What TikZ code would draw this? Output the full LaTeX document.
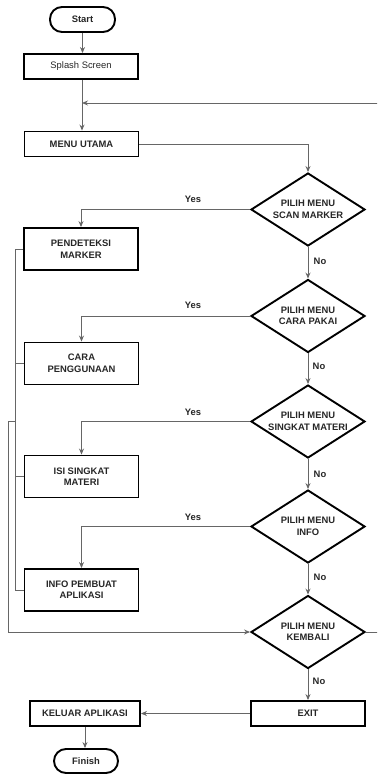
\documentclass[tikz,border=0pt]{standalone}
\usepackage{fontspec}
\setmainfont{Liberation Sans}
\usetikzlibrary{shapes.geometric,arrows.meta}
\begin{document}
\begin{tikzpicture}[x=1pt,y=-1pt,
  txt/.style={font=\fontsize{9.4}{11.5}\selectfont\bfseries,text=black!85},
  box/.style={draw=black,line width=1.9pt,minimum width=114pt,minimum height=25pt,inner sep=0pt,align=center,txt},
  tallbox/.style={box,minimum height=42pt},
  term/.style={draw=black,line width=1.9pt,rounded corners=12pt,minimum width=65pt,minimum height=25pt,inner sep=0pt,txt},
  dec/.style={diamond,draw=black,line width=1.9pt,minimum width=114pt,minimum height=73pt,inner sep=0pt},
  dtext/.style={txt,align=center,inner sep=0pt},
  conn/.style={draw=black!60,line width=0.9pt},
  arr/.style={conn,-{Stealth[length=6pt,width=5pt]}},
  lab/.style={txt,inner sep=0pt}
]
\clip (0,0) rectangle (377,775);
% nodes
\node[term] (start) at (82.5,19.5) {Start};
\node[box,font=\fontsize{9.4}{11.5}\selectfont] (splash) at (81,66.5) {Splash Screen};
\node[box] (menu) at (81.5,144) {MENU UTAMA};
\node[dec] (d1) at (308,209.5) {};
\node[dtext] (d1t) at (d1) {PILIH MENU\\SCAN MARKER};
\node[dec] (d2) at (308,316) {};
\node[dtext] (d2t) at (d2) {PILIH MENU\\CARA PAKAI};
\node[dec] (d3) at (308,421.5) {};
\node[dtext] (d3t) at (d3) {PILIH MENU\\SINGKAT MATERI};
\node[dec] (d4) at (308,526.5) {};
\node[dtext] (d4t) at (d4) {PILIH MENU\\INFO};
\node[dec] (d5) at (308,632) {};
\node[dtext] (d5t) at (d5) {PILIH MENU\\KEMBALI};
\node[tallbox] (p1) at (81,249) {PENDETEKSI\\MARKER};
\node[tallbox] (p2) at (81.5,363.5) {CARA\\PENGGUNAAN};
\node[tallbox] (p3) at (81.5,476.5) {ISI SINGKAT\\MATERI};
\node[tallbox] (p4) at (81.5,590) {INFO PEMBUAT\\APLIKASI};
\node[box] (exit) at (308,713.5) {EXIT};
\node[box,minimum width=110pt] (kel) at (85,713.5) {KELUAR APLIKASI};
\node[term,minimum width=64pt,minimum height=24pt] (fin) at (86,761) {Finish};
% labels
\node[lab] (y1) at (193,199) {Yes};
\node[lab] (y2) at (193,305) {Yes};
\node[lab] (y3) at (193,412) {Yes};
\node[lab] (y4) at (193,517) {Yes};
\node[lab] (n1) at (320,261) {No};
\node[lab] (n2) at (319,366) {No};
\node[lab] (n3) at (320,474) {No};
\node[lab] (n4) at (320,577) {No};
\node[lab] (n5) at (319,681) {No};
% coordinates
\coordinate (j) at (82,103);
\coordinate (rtop) at (380,103);
\coordinate (rback) at (380,632);
\coordinate (lt) at (15,249);
\coordinate (lb) at (15,590);
\coordinate (jl) at (15,421);
\coordinate (jo) at (8,421);
\coordinate (jb) at (8,632);
% connectors
\draw[arr] (start.south) -- (start.south |- splash.north);
\draw[conn] (splash.south -| j) -- (j);
\draw[arr] (j) -- (j |- menu.north);
\draw[arr] (rback) -- (rtop) -- (j);
\draw[conn] (d5.east) -- (rback);
\draw[arr] (menu.east) -| (d1.north);
\draw[arr] (d1.west) -| (p1.north);
\draw[arr] (d2.west) -| (p2.north);
\draw[arr] (d3.west) -| (p3.north);
\draw[arr] (d4.west) -| (p4.north);
\draw[arr] (d1.south) -- (d2.north);
\draw[arr] (d2.south) -- (d3.north);
\draw[arr] (d3.south) -- (d4.north);
\draw[arr] (d4.south) -- (d5.north);
\draw[arr] (d5.south) -- (exit.north);
\draw[arr] (exit.west) -- (kel.east);
\draw[arr] (kel.south) -- (kel.south |- fin.north);
\draw[conn] (p1.west) -- (lt) -- (lb) -- (p4.west);
\draw[conn] (p2.west) -- (p2.west -| lt);
\draw[conn] (p3.west) -- (p3.west -| lt);
\draw[arr] (jl) -- (jo) -- (jb) -- (d5.west);
\end{tikzpicture}
\end{document}
